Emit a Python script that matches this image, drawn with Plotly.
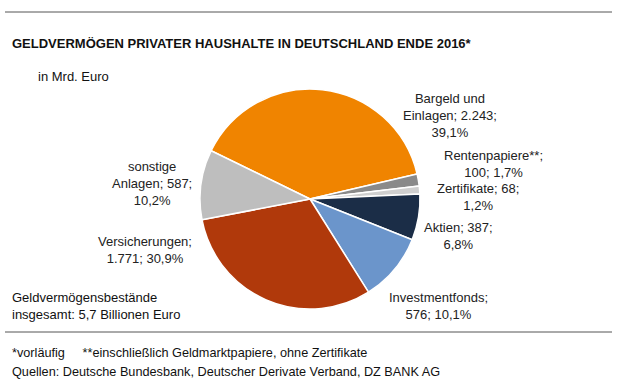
import plotly.graph_objects as go

W, H = 620, 385

# Data
categories = ["Bargeld und Einlagen", "Rentenpapiere**", "Zertifikate", "Aktien",
              "Investmentfonds", "Versicherungen", "sonstige Anlagen"]
values = [2243, 100, 68, 387, 576, 1771, 587]
percent_labels = ["39,1%", "1,7%", "1,2%", "6,8%", "10,1%", "30,9%", "10,2%"]
label_templates = [
    "Bargeld und<br>Einlagen; {v};<br>{p}",
    "Rentenpapiere**;<br>{v}; {p}",
    "Zertifikate; {v};<br>{p}",
    "Aktien; {v};<br>{p}",
    "Investmentfonds;<br>{v}; {p}",
    "Versicherungen;<br>{v}; {p}",
    "sonstige<br>Anlagen; {v};<br>{p}",
]
colors = ["#F08400", "#8A8A8A", "#CFCFCF", "#1B2D47", "#6B95CB", "#B0390B", "#BEBEBE"]

title = "GELDVERMÖGEN PRIVATER HAUSHALTE IN DEUTSCHLAND ENDE 2016*"
unit = "in Mrd. Euro"
total_note = "Geldvermögensbestände<br>insgesamt: 5,7 Billionen Euro"
foot1 = "*vorläufig&nbsp;&nbsp;&nbsp;&nbsp;&nbsp;**einschließlich Geldmarktpapiere, ohne Zertifikate"
foot2 = "Quellen: Deutsche Bundesbank, Deutscher Derivate Verband, DZ BANK AG"

# label anchor positions (pixels)
label_pos = [(450, 115), (493, 164), (478, 197), (458, 236), (439, 306), (145, 250), (152, 183)]


def fmt(v):
    return f"{v:,}".replace(",", ".")


def px(x, y):
    return x / W, 1 - y / H


FONT = "Liberation Sans, Arial, sans-serif"
FS = 13

cx, cy, r = 310, 199, 110
fig = go.Figure(go.Pie(
    labels=categories, values=values, sort=False, direction="clockwise",
    rotation=-64, marker=dict(colors=colors, line=dict(color="white", width=1.5)),
    textinfo="none", hoverinfo="label+value", showlegend=False,
    domain=dict(x=[(cx - r) / W, (cx + r) / W], y=[1 - (cy + r) / H, 1 - (cy - r) / H]),
))

ann = []
for t, v, p, (x, y) in zip(label_templates, values, percent_labels, label_pos):
    ax, ay = px(x, y)
    ann.append(dict(text=t.format(v=fmt(v), p=p), x=ax, y=ay, xref="paper", yref="paper",
                    xanchor="center", yanchor="middle", align="center", showarrow=False,
                    font=dict(size=FS, color="#222", family=FONT)))

def left_text(text, x, y, bold=False, size=FS):
    ax, ay = px(x, y)
    return dict(text=f"<b>{text}</b>" if bold else text, x=ax, y=ay, xref="paper", yref="paper",
                xanchor="left", yanchor="middle", align="left", showarrow=False,
                font=dict(size=size, color="#111", family=FONT))

ann.append(left_text(title, 10, 43, bold=True))
ann.append(left_text(unit, 36, 76))
ann.append(left_text(total_note, 10, 306))
ann.append(left_text(foot1, 10, 353, size=12.7))
ann.append(left_text(foot2, 10, 372, size=12.7))

shapes = [
    dict(type="line", xref="paper", yref="paper", x0=5 / W, x1=612 / W, y0=1 - 12 / H, y1=1 - 12 / H,
         line=dict(color="#555", width=1)),
    dict(type="line", xref="paper", yref="paper", x0=5 / W, x1=612 / W, y0=1 - 332 / H, y1=1 - 332 / H,
         line=dict(color="#555", width=1)),
]

fig.update_layout(width=W, height=H, margin=dict(l=0, r=0, t=0, b=0),
                  paper_bgcolor="white", plot_bgcolor="white",
                  annotations=ann, shapes=shapes)
fig.write_html("out.html", config={"displayModeBar": False},
               post_script="document.body.style.margin='0';document.body.style.overflow='hidden';")
